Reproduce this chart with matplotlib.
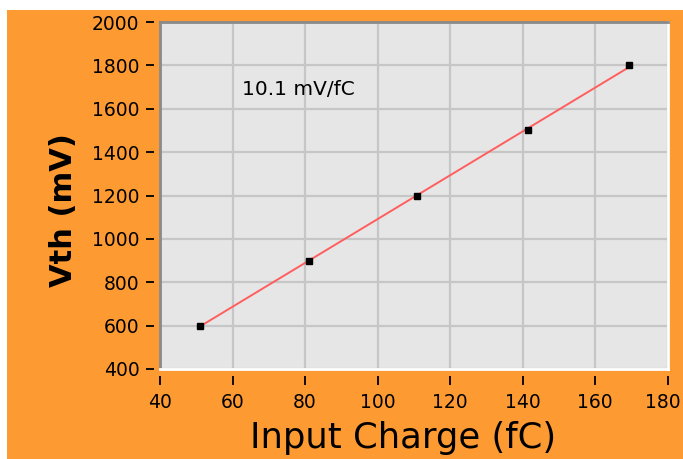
import numpy as np
import matplotlib
matplotlib.use("Agg")
import matplotlib.pyplot as plt
from matplotlib.patches import Rectangle
from matplotlib.lines import Line2D
from matplotlib.transforms import ScaledTranslation

# Measured threshold vs. injected charge
charge_fc = [51, 81, 111, 141.5, 169.5]
vth_mv = [600, 900, 1200, 1500, 1800]
gain_mv_per_fc = 10.1
gain_label = "10.1 mV/fC"

x_ticks = [40, 60, 80, 100, 120, 140, 160, 180]
y_ticks = [400, 600, 800, 1000, 1200, 1400, 1600, 1800, 2000]

ORANGE = "#FE9A32"
PLOT_BG = "#E6E6E6"
GRID = "#C6C6C6"

W, H, DPI = 683, 459, 100
fig = plt.figure(figsize=(W / DPI, H / DPI), dpi=DPI, facecolor="white")

# orange panel behind everything
fig.patches.append(Rectangle((7 / W, 0.5 / H), 1 - 7 / W, (458 - 9) / H,
                             transform=fig.transFigure, facecolor=ORANGE,
                             edgecolor="none", zorder=-10))

left, right, top, bottom = 160, 667.5, 22, 369
ax = fig.add_axes([left / W, 1 - bottom / H, (right - left) / W, (bottom - top) / H])
ax.set_zorder(1)
ax.set_facecolor(PLOT_BG)
ax.set_xlim(40, 180)
ax.set_ylim(400, 2000)
ax.set_xticks(x_ticks)
ax.set_yticks(y_ticks)
ax.grid(True, color=GRID, linewidth=1.6, zorder=0)
ax.set_axisbelow(True)

# ticks sit a little away from the frame
px = 72 / DPI
for side in ("left", "bottom"):
    ax.spines[side].set_position(("outward", 6.5 * px))
    ax.spines[side].set_visible(False)
ax.spines["top"].set_color("#8A8A8A")
ax.spines["top"].set_linewidth(2)
ax.spines["right"].set_color("white")
ax.spines["right"].set_linewidth(2)
ax.add_line(Line2D([0, 0], [0, 1], transform=ax.transAxes, color="#8A8A8A",
                   linewidth=2, clip_on=False, zorder=5))
ax.add_line(Line2D([0, 1], [0, 0], transform=ax.transAxes, color="white",
                   linewidth=2, clip_on=False, zorder=5))

ax.tick_params(axis="y", direction="out", length=8 * px, width=1.3, pad=6 * px,
               labelsize=13.5, colors="black")
ax.tick_params(axis="x", direction="out", length=9 * px, width=1.3, pad=8 * px,
               labelsize=13.5, colors="black")

# nudge the last x label so it stays inside the panel
last = ax.xaxis.get_major_ticks()[-1].label1
last.set_transform(last.get_transform() + ScaledTranslation(-5 / DPI, 0, fig.dpi_scale_trans))

# linear fit with the quoted gain
xm, ym = np.mean(charge_fc), np.mean(vth_mv)
fx = np.array([charge_fc[0], charge_fc[-1]])
fy = ym + gain_mv_per_fc * (fx - xm)
ax.plot(fx, fy, color="#FF5E5E", linewidth=1.4, zorder=3)
ax.plot(charge_fc, vth_mv, linestyle="none", marker="s", markersize=5,
        color="black", zorder=4)

ax.text(62.5, 1690, gain_label, fontsize=14.5, va="center", ha="left",
        color="black")

ax.set_xlabel("Input Charge (fC)", fontsize=25.5, color="black")
ax.xaxis.set_label_coords(0.478, -0.15)
ax.set_ylabel("Vth (mV)", fontsize=22, fontweight="bold", color="black")
ax.yaxis.set_label_coords(-0.162, 0.458)

fig.savefig("out.png", dpi=DPI, facecolor=fig.get_facecolor())
